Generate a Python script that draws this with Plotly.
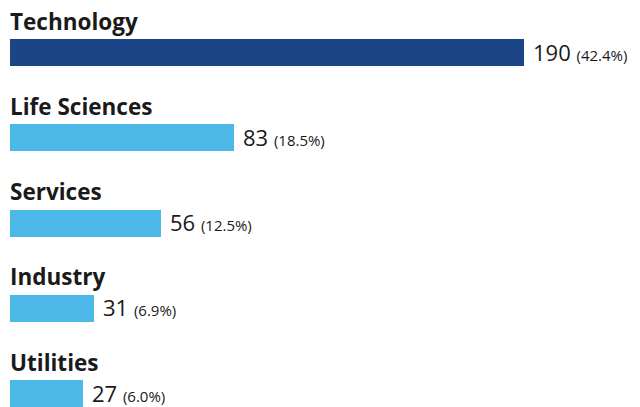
import plotly.graph_objects as go

# Sector breakdown
sectors = ["Technology", "Life Sciences", "Services", "Industry", "Utilities"]
counts = [190, 83, 56, 31, 27]
shares = ["42.4%", "18.5%", "12.5%", "6.9%", "6.0%"]
bar_colors = ["#1c4587", "#4cb8e8", "#4cb8e8", "#4cb8e8", "#4cb8e8"]

positions = list(range(len(sectors)))
text_color = "#1a1a1a"
font_family = "Open Sans, Inter, sans-serif"

fig = go.Figure(
    go.Bar(
        x=counts,
        y=positions,
        orientation="h",
        marker=dict(color=bar_colors, line=dict(width=0)),
        width=0.317,
        hoverinfo="skip",
    )
)

annotations = []
for pos, name, val, pct in zip(positions, sectors, counts, shares):
    # Sector name above the bar
    annotations.append(dict(
        x=0, y=pos, xref="x", yref="y",
        xanchor="left", yanchor="bottom",
        text=f"<b>{name}</b>",
        showarrow=False,
        yshift=14,
        xshift=-2,
        font=dict(family=font_family, size=22.5, color=text_color),
    ))
    # Count and share to the right of the bar
    annotations.append(dict(
        x=val, y=pos, xref="x", yref="y",
        xanchor="left", yanchor="middle",
        text=f"{val} <span style='font-size:15px'>({pct})</span>",
        showarrow=False,
        borderpad=0,
        xshift=8,
        yshift=1,
        font=dict(family=font_family, size=22, color=text_color),
    ))

fig.update_layout(
    width=640,
    height=407,
    margin=dict(l=10, r=0, t=0, b=0),
    paper_bgcolor="white",
    plot_bgcolor="white",
    showlegend=False,
    annotations=annotations,
    xaxis=dict(range=[0, 233.0], visible=False, fixedrange=True),
    yaxis=dict(range=[4.158, -0.616], visible=False, fixedrange=True),
    bargap=0,
)

fig.write_html("out.html")
